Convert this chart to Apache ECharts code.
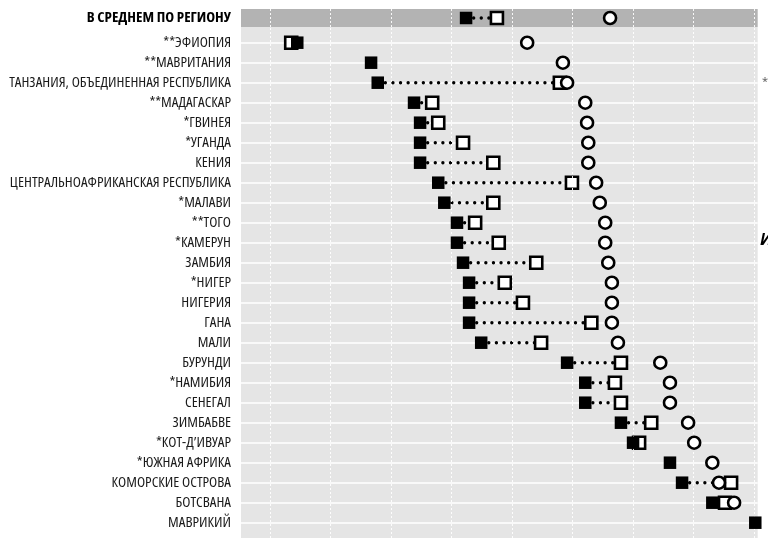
<!DOCTYPE html>
<html>
<head>
<meta charset="utf-8">
<script src="https://cdn.jsdelivr.net/npm/echarts@6/dist/echarts.min.js"></script>
<style>
html,body{margin:0;padding:0;background:#fff;}
#chart{width:768px;height:538px;}
</style>
</head>
<body>
<div id="chart"></div>
<script>
// ---- data ----
const gridTicks = [10, 20, 30, 40, 50, 60, 70, 80, 90];
const avgLabel = ['В СРЕДНЕМ ПО РЕГИОНУ'];
const avgFilled = [42.4];
const avgOpen = [47.5];
const avgCircle = [66.2];

const countries = [
  '**ЭФИОПИЯ', '**МАВРИТАНИЯ', 'ТАНЗАНИЯ, ОБЪЕДИНЕННАЯ РЕСПУБЛИКА', '**МАДАГАСКАР',
  '*ГВИНЕЯ', '*УГАНДА', 'КЕНИЯ', 'ЦЕНТРАЛЬНОАФРИКАНСКАЯ РЕСПУБЛИКА', '*МАЛАВИ',
  '**ТОГО', '*КАМЕРУН', 'ЗАМБИЯ', '*НИГЕР', 'НИГЕРИЯ', 'ГАНА', 'МАЛИ', 'БУРУНДИ',
  '*НАМИБИЯ', 'СЕНЕГАЛ', 'ЗИМБАБВЕ', '*КОТ-Д\u2019ИВУАР', '*ЮЖНАЯ АФРИКА',
  'КОМОРСКИЕ ОСТРОВА', 'БОТСВАНА', 'МАВРИКИЙ'
];
const filledSq = [14.5, 26.7, 27.8, 33.8, 34.8, 34.8, 34.8, 37.8, 38.8, 40.9, 40.9, 41.9, 42.9, 42.9, 42.9, 44.9, 59.1, 62.1, 62.1, 68.0, 70.0, 76.1, 78.1, 83.1, 90.2];
const openSq   = [13.5, null, 57.9, 36.8, 37.8, 41.9, 46.9, 59.9, 46.9, 43.9, 47.8, 54.0, 48.8, 51.8, 63.1, 54.8, 68.0, 67.0, 68.0, 73.0, 71.0, null, 86.2, 85.2, null];
const circles  = [52.5, 58.4, 59.1, 62.1, 62.4, 62.6, 62.6, 63.9, 64.5, 65.4, 65.4, 65.9, 66.5, 66.5, 66.5, 67.5, 74.5, 76.1, 76.1, 79.1, 80.1, 83.1, 84.2, 86.7, null];

const XMIN = 5.2, XMAX = 90.6;

// ---- chart ----
const chart = echarts.init(document.getElementById('chart'), null, {renderer: 'canvas'});
const FONT = '"Open Sans", sans-serif';
const L = 241, R = 10.3;

function xAx(g) {
  return {gridIndex: g, type: 'value', min: XMIN, max: XMAX, show: false, splitLine: {show: false}};
}
function vLines() {
  return {
    silent: true, symbol: 'none', animation: false,
    label: {show: false},
    lineStyle: {color: '#ffffff', type: [2, 2], width: 1, opacity: 0.9},
    data: gridTicks.map(v => ({xAxis: v}))
  };
}
function connector(xi, yi, a, b) {
  const data = [];
  a.forEach((v, i) => { if (v != null && b[i] != null) data.push([i, v, b[i]]); });
  return {
    type: 'custom', xAxisIndex: xi, yAxisIndex: yi, z: 3, silent: true,
    data: data,
    renderItem: function (params, api) {
      const p1 = api.coord([api.value(1), api.value(0)]);
      const p2 = api.coord([api.value(2), api.value(0)]);
      return {
        type: 'line',
        shape: {x1: p1[0], y1: p1[1], x2: p2[0], y2: p2[1]},
        style: {stroke: '#000', lineWidth: 3.4, lineDash: [0, 7.6], lineCap: 'round'}
      };
    }
  };
}
function pts(arr) {
  const out = [];
  arr.forEach((v, i) => { if (v != null) out.push([v, i]); });
  return out;
}
function markSeries(xi, yi, a, b, c) {
  return [
    connector(xi, yi, a, b),
    {type: 'scatter', xAxisIndex: xi, yAxisIndex: yi, z: 4, symbol: 'rect', symbolSize: 12,
     itemStyle: {color: '#fff', borderColor: '#000', borderWidth: 2.6, opacity: 1}, data: pts(b), silent: true},
    {type: 'scatter', xAxisIndex: xi, yAxisIndex: yi, z: 5, symbol: 'rect', symbolSize: 12.5,
     itemStyle: {color: '#000', opacity: 1}, data: pts(a), silent: true},
    {type: 'scatter', xAxisIndex: xi, yAxisIndex: yi, z: 6, symbol: 'circle', symbolSize: 12,
     itemStyle: {color: '#fff', borderColor: '#000', borderWidth: 2.6, opacity: 1}, data: pts(c), silent: true}
  ];
}

const option = {
  animation: false,
  backgroundColor: '#ffffff',
  grid: [
    {left: L, right: R, top: 9, height: 18, show: true, backgroundColor: '#b3b3b3', borderWidth: 0, outerBoundsMode: 'none'},
    {left: L, right: R, top: 27, bottom: 0, show: true, backgroundColor: '#e5e5e5', borderWidth: 0, outerBoundsMode: 'none'},
    {left: L, right: R, top: 42.7, height: 480, outerBoundsMode: 'none'}
  ],
  xAxis: [xAx(0), xAx(1), xAx(2)],
  yAxis: [
    {gridIndex: 0, type: 'category', data: avgLabel,
     axisLine: {show: false}, axisTick: {show: false}, splitLine: {show: false},
     axisLabel: {fontFamily: FONT, fontSize: 15, fontStyle: 'condensed', fontWeight: 'bold', color: '#000', margin: 10}},
    {gridIndex: 1, type: 'value', min: 0, max: 1, show: false, splitLine: {show: false}},
    {gridIndex: 2, type: 'category', data: countries, inverse: true, boundaryGap: false,
     axisLine: {show: false}, axisTick: {show: false},
     splitLine: {show: true, lineStyle: {color: '#ffffff', width: 1.5}},
     axisLabel: {fontFamily: FONT, fontSize: 15, fontStyle: 'condensed', color: '#1a1a1a', margin: 10, interval: 0}}
  ],
  series: [
    {type: 'scatter', xAxisIndex: 0, yAxisIndex: 0, data: [], z: 1, markLine: vLines()},
    {type: 'scatter', xAxisIndex: 1, yAxisIndex: 1, data: [], z: 1, markLine: vLines()}
  ]
    .concat(markSeries(0, 0, avgFilled, avgOpen, avgCircle))
    .concat(markSeries(2, 2, filledSq, openSq, circles)),
  graphic: [
    {type: 'text', left: 762, top: 76, style: {text: '*', fill: '#555', font: '11px ' + FONT}, silent: true},
    {type: 'text', left: 760, top: 232, style: {text: 'И', fill: '#000', font: 'italic bold 16px ' + FONT}, silent: true}
  ]
};
chart.setOption(option);
</script>
</body>
</html>
